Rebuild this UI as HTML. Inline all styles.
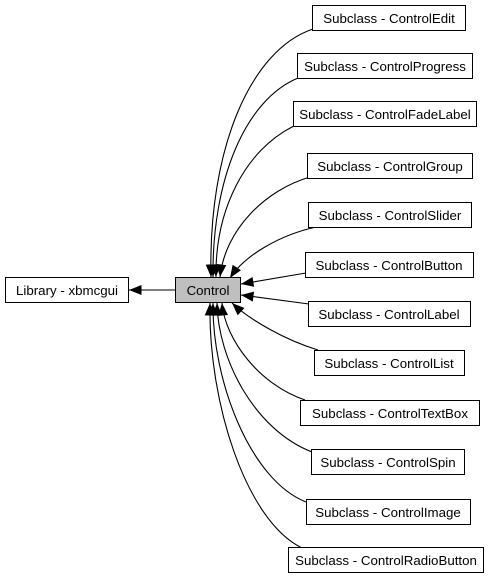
<!DOCTYPE html>
<html><head><meta charset="utf-8"><style>
html,body{margin:0;padding:0;background:#fff;}
svg{display:block;}
text{font-family:"Liberation Sans",Arial,sans-serif;font-size:13.3px;fill:#000;}
</style></head><body>
<svg width="496" height="579" viewBox="0 0 496 579" xmlns="http://www.w3.org/2000/svg">
<defs>
<marker id="a" viewBox="0 0 10 8" refX="10" refY="4" markerWidth="13" markerHeight="10" markerUnits="userSpaceOnUse" orient="auto">
<path d="M0,0 L10,4 L0,8 z" fill="#000"/>
</marker>
</defs>
<g fill="none" stroke="#000" stroke-width="1.1" marker-end="url(#a)">
<path d="M175,290 L129,290"/>
<path d="M313,29 C250,50 208,150 211,277"/>
<path d="M298,78 C245,100 212,180 213,277"/>
<path d="M294,126 C245,150 215,210 216,277"/>
<path d="M310,177 C265,190 225,230 220,277"/>
<path d="M316,227 C280,235 245,255 230,278"/>
<path d="M306,273 L241,284"/>
<path d="M309,304 L241,295"/>
<path d="M318,350 C285,340 250,320 232,303"/>
<path d="M305,400 C260,385 225,340 222,303"/>
<path d="M312,452 C255,430 218,360 217,303"/>
<path d="M306,502 C250,480 212,380 213,303"/>
<path d="M302,548 C245,520 208,400 210,303"/>
</g>
<g stroke="#000" stroke-width="1" fill="#fff">
<rect x="5.5" y="277.5" width="123" height="25"/>
<rect x="175.5" y="277.5" width="65" height="25" fill="#bfbfbf"/>
<rect x="312.5" y="5.5" width="153" height="25"/>
<rect x="297.5" y="53.5" width="175" height="25"/>
<rect x="293.5" y="101.5" width="183" height="25"/>
<rect x="307.5" y="153.5" width="165" height="25"/>
<rect x="308.5" y="202.5" width="163" height="25"/>
<rect x="305.5" y="252.5" width="168" height="25"/>
<rect x="308.5" y="301.5" width="162" height="25"/>
<rect x="314.5" y="350.5" width="150" height="25"/>
<rect x="300.5" y="400.5" width="179" height="25"/>
<rect x="311.5" y="449.5" width="153" height="25"/>
<rect x="306.5" y="499.5" width="164" height="25"/>
<rect x="288.5" y="547.5" width="195" height="25"/>
</g>
<g text-anchor="middle">
<text x="67" y="295">Library - xbmcgui</text>
<text x="208" y="295">Control</text>
<text x="389" y="23">Subclass - ControlEdit</text>
<text x="385" y="71">Subclass - ControlProgress</text>
<text x="385" y="119">Subclass - ControlFadeLabel</text>
<text x="390" y="171">Subclass - ControlGroup</text>
<text x="390" y="220">Subclass - ControlSlider</text>
<text x="389" y="270">Subclass - ControlButton</text>
<text x="389" y="319">Subclass - ControlLabel</text>
<text x="389" y="368">Subclass - ControlList</text>
<text x="390" y="418">Subclass - ControlTextBox</text>
<text x="388" y="467">Subclass - ControlSpin</text>
<text x="388" y="517">Subclass - ControlImage</text>
<text x="386" y="565">Subclass - ControlRadioButton</text>
</g>
</svg>
</body></html>
